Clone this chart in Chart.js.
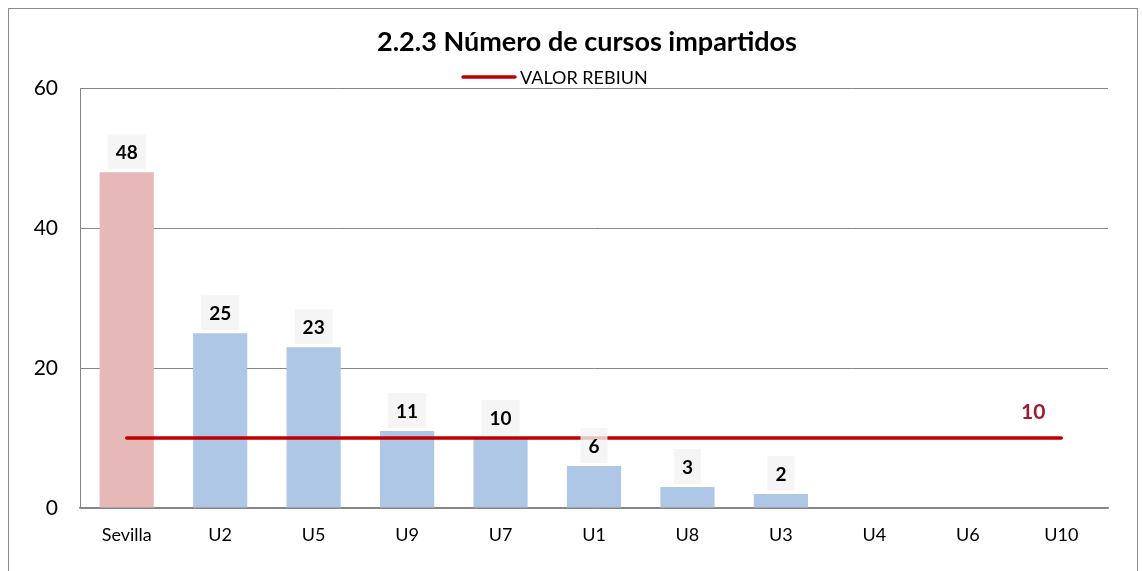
<!DOCTYPE html>
<html>
<head>
<meta charset="utf-8">
<script src="https://cdn.jsdelivr.net/npm/chart.js@4/dist/chart.umd.min.js"></script>
<style>
html, body { margin: 0; padding: 0; background: #fff; }
#wrap { position: relative; width: 1142px; height: 571px; }
#frame { position: absolute; left: 8px; top: 8px; width: 1130px; height: 575px; border: 1px solid #8c8c8c; box-sizing: border-box; pointer-events: none; }
</style>
</head>
<body>
<div id="wrap">
  <canvas id="myChart" width="1142" height="571"></canvas>
  <div id="frame"></div>
</div>
<script>
// data
const universidades = ['Sevilla', 'U2', 'U5', 'U9', 'U7', 'U1', 'U8', 'U3', 'U4', 'U6', 'U10'];
const cursos = [48, 25, 23, 11, 10, 6, 3, 2, 0, 0, 0];
const rebiun = [10, 10, 10, 10, 10, 10, 10, 10, 10, 10, 10];
const yTicks = [0, 20, 40, 60];

const FONT = 'Lato, "Open Sans", sans-serif';

// draws the value boxes, the REBIUN value and the legend
const labelPlugin = {
    id: 'valueLabels',
    afterDatasetsDraw(chart) {
        const ctx = chart.ctx;
        ctx.save();
        ctx.textAlign = 'center';
        ctx.textBaseline = 'middle';
        ctx.font = 'bold 19px ' + FONT;
        const bars = chart.getDatasetMeta(1);
        bars.data.forEach((bar, i) => {
            const v = cursos[i];
            if (!v) return;
            const t = String(v);
            const w = ctx.measureText(t).width + 16;
            const h = 35;
            const cy = bar.y - 3 - h / 2;
            ctx.fillStyle = 'rgba(242,242,242,0.8)';
            ctx.fillRect(bar.x - w / 2, cy - h / 2, w, h);
            ctx.fillStyle = '#000';
            ctx.fillText(t, bar.x, cy + 1);
        });

        const line = chart.getDatasetMeta(0);
        const last = line.data[line.data.length - 1];
        ctx.fillStyle = '#9e1b32';
        ctx.font = 'bold 21px ' + FONT;
        ctx.fillText(String(rebiun[rebiun.length - 1]), last.x - 28, last.y - 26);

        // legend (only the line series is listed)
        ctx.strokeStyle = '#c00000';
        ctx.lineWidth = 3.5;
        ctx.lineCap = 'round';
        ctx.beginPath();
        ctx.moveTo(463, 77);
        ctx.lineTo(515, 77);
        ctx.stroke();
        ctx.fillStyle = '#000';
        ctx.textAlign = 'left';
        ctx.font = '18px ' + FONT;
        ctx.fillText('VALOR REBIUN', 520, 78);
        ctx.restore();
    }
};

const renderChart = () => {
    var ctx = document.getElementById('myChart').getContext('2d');
    new Chart(ctx, {
        type: 'bar',
        data: {
            labels: universidades,
            datasets: [{
                type: 'line',
                label: 'VALOR REBIUN',
                data: rebiun,
                borderColor: '#c00000',
                borderWidth: 3.5,
                borderCapStyle: 'round',
                pointRadius: 0,
                fill: false,
                order: 1
            }, {
                label: 'Número de cursos',
                data: cursos,
                backgroundColor: c => c.dataIndex === 0 ? '#e6b8b7' : '#afc7e7',
                barPercentage: 0.58,
                categoryPercentage: 1,
                order: 2
            }]
        },
        options: {
            responsive: false,
            animation: false,
            // uneven padding + empty right axis so the title sits right of centre like the original
            layout: { padding: { left: 32, right: 0, top: 0, bottom: 0 } },
            plugins: {
                title: {
                    display: true,
                    text: '2.2.3 Número de cursos impartidos',
                    color: '#000',
                    font: { family: FONT, size: 27, weight: 'bold' },
                    padding: { top: 26, bottom: 30 }
                },
                legend: { display: false },
                tooltip: { enabled: false }
            },
            scales: {
                x: {
                    grid: { display: false, drawTicks: false },
                    border: { color: '#868686', width: 1.5 },
                    ticks: { color: '#000', font: { family: FONT, size: 18 }, padding: 16 },
                    afterFit: s => { s.height = 63; }
                },
                y: {
                    min: 0,
                    max: 60,
                    afterBuildTicks: s => { s.ticks = yTicks.map(v => ({ value: v })); },
                    grid: { color: '#868686', drawTicks: false },
                    border: { color: '#868686' },
                    ticks: { color: '#000', font: { family: FONT, size: 21 }, padding: 22 },
                    afterFit: s => { s.width = 48; }
                },
                yRight: {
                    position: 'right',
                    min: 0,
                    max: 60,
                    grid: { display: false, drawTicks: false },
                    border: { display: false },
                    ticks: { display: false },
                    afterFit: s => { s.width = 34; }
                }
            }
        },
        plugins: [labelPlugin]
    });
};

document.addEventListener('DOMContentLoaded', function() {
    renderChart();
});
</script>
</body>
</html>
